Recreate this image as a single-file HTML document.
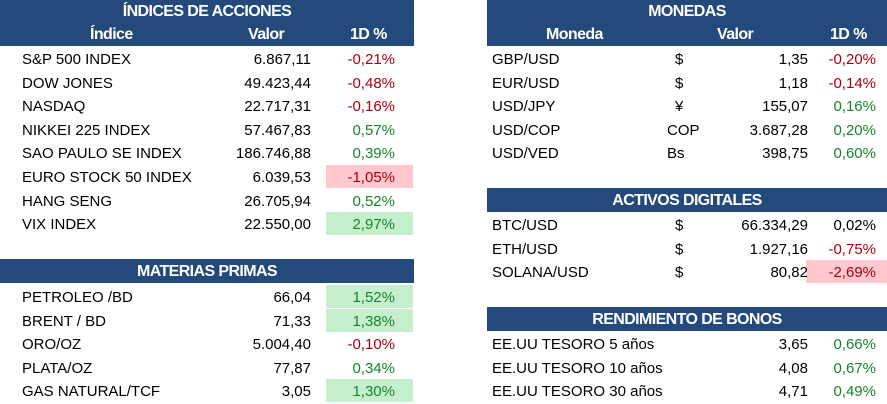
<!DOCTYPE html>
<html><head><meta charset="utf-8"><style>
body{margin:0;width:887px;height:404px;background:#fff;position:relative;overflow:hidden;font-family:"Liberation Sans",sans-serif;font-size:15px;color:#000}
.h{position:absolute;background:#244a7c;color:#fff;font-weight:bold;font-size:15px;letter-spacing:-0.5px}
.t{position:absolute;white-space:nowrap;line-height:23px;height:23px}
.r{text-align:right}
.red{color:#a80010}.grn{color:#17842a}
.bg-r{background:#ffc7ce}.bg-g{background:#c6efce}
.hd{font-size:16px;color:#fff;font-weight:bold;letter-spacing:-0.6px}
</style></head><body>
<div class="h" style="left:0;top:0;width:414px;height:46px"></div>
<div class="t hd" style="left:0;top:0;width:414px;text-align:center">ÍNDICES DE ACCIONES</div>
<div class="t hd" style="left:90px;top:23px">Índice</div>
<div class="t hd" style="left:248px;top:23px">Valor</div>
<div class="t hd" style="left:350px;top:23px">1D %</div>
<div id="L"></div>
<div class="h" style="left:487px;top:0;width:400px;height:46px"></div>
<div class="t hd" style="left:487px;top:0;width:400px;text-align:center">MONEDAS</div>
<div class="t hd" style="left:546px;top:23px">Moneda</div>
<div class="t hd" style="left:717px;top:23px">Valor</div>
<div class="t hd" style="left:830px;top:23px">1D %</div>
<div class="h" style="left:0;top:259px;width:414px;height:24px"></div>
<div class="t hd" style="left:0;top:260px;width:414px;text-align:center">MATERIAS PRIMAS</div>
<div class="h" style="left:487px;top:188px;width:400px;height:24px"></div>
<div class="t hd" style="left:487px;top:189px;width:400px;text-align:center">ACTIVOS DIGITALES</div>
<div class="h" style="left:487px;top:307px;width:400px;height:24px"></div>
<div class="t hd" style="left:487px;top:308px;width:400px;text-align:center">RENDIMIENTO DE BONOS</div>
<script>
function rowsL(top,data){let h='';data.forEach((d,i)=>{let y=top+i*23.6;
h+=`<div class="t ${d[3]||''}" style="left:326px;top:${y}px;width:87px"></div>`;
h+=`<div class="t" style="left:22px;top:${y+1}px">${d[0]}</div>`;
h+=`<div class="t r" style="left:200px;top:${y+1}px;width:111px">${d[1]}</div>`;
h+=`<div class="t r ${d[2]}" style="left:326px;top:${y+1}px;width:69px">${d[4]}</div>`;});return h;}
function rowsR(top,data){let h='';data.forEach((d,i)=>{let y=top+i*23.6;
h+=`<div class="t ${d[4]||''}" style="left:806px;top:${y}px;width:81px"></div>`;
h+=`<div class="t" style="left:492px;top:${y+1}px">${d[0]}</div>`;
h+=`<div class="t" style="left:${d[1].length>1?667:675}px;top:${y+1}px">${d[1]}</div>`;
h+=`<div class="t r" style="left:700px;top:${y+1}px;width:108px">${d[2]}</div>`;
h+=`<div class="t r ${d[3]}" style="left:806px;top:${y+1}px;width:70px">${d[5]}</div>`;});return h;}
let h='';
h+=rowsL(47,[["S&amp;P 500 INDEX","6.867,11","red","","-0,21%"],["DOW JONES","49.423,44","red","","-0,48%"],["NASDAQ","22.717,31","red","","-0,16%"],["NIKKEI 225 INDEX","57.467,83","grn","","0,57%"],["SAO PAULO SE INDEX","186.746,88","grn","","0,39%"],["EURO STOCK 50 INDEX","6.039,53","red","bg-r","-1,05%"],["HANG SENG","26.705,94","grn","","0,52%"],["VIX INDEX","22.550,00","grn","bg-g","2,97%"]]);
h+=rowsL(285,[["PETROLEO /BD","66,04","grn","bg-g","1,52%"],["BRENT / BD","71,33","grn","bg-g","1,38%"],["ORO/OZ","5.004,40","red","","-0,10%"],["PLATA/OZ","77,87","grn","","0,34%"],["GAS NATURAL/TCF","3,05","grn","bg-g","1,30%"]]);
h+=rowsR(47,[["GBP/USD","$","1,35","red","","-0,20%"],["EUR/USD","$","1,18","red","","-0,14%"],["USD/JPY","¥","155,07","grn","","0,16%"],["USD/COP","COP","3.687,28","grn","","0,20%"],["USD/VED","Bs","398,75","grn","","0,60%"]]);
h+=rowsR(213,[["BTC/USD","$","66.334,29","","","0,02%"],["ETH/USD","$","1.927,16","red","","-0,75%"],["SOLANA/USD","$","80,82","red","bg-r","-2,69%"]]);
h+=rowsR(332,[["EE.UU TESORO 5 años","","3,65","grn","","0,66%"],["EE.UU TESORO 10 años","","4,08","grn","","0,67%"],["EE.UU TESORO 30 años","","4,71","grn","","0,49%"]]);
document.getElementById('L').innerHTML=h;
</script>
</body></html>
